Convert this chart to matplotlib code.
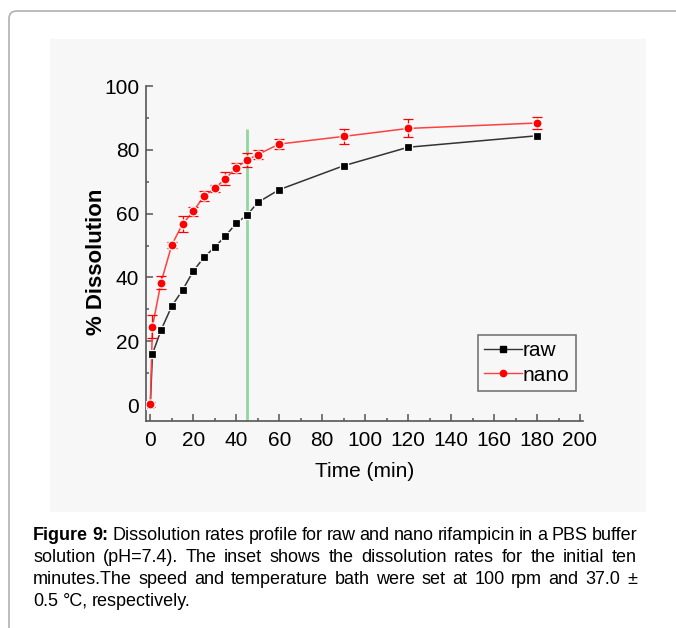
import matplotlib
matplotlib.use("Agg")
import matplotlib.pyplot as plt
import numpy as np
from matplotlib import font_manager
from matplotlib.patches import Rectangle, FancyBboxPatch

# Data
time = [0, 1, 5, 10, 15, 20, 25, 30, 35, 40, 45, 50, 60, 90, 120, 180]
raw = [0, 16, 23.5, 31, 36, 42, 46.3, 49.5, 53, 57, 59.5, 63.5, 67.5, 75, 80.8, 84.4]
nano = [0.3, 24.6, 38.4, 50.2, 56.7, 60.7, 65.5, 67.9, 71, 74.3, 76.8, 78.5, 81.8, 84.2, 86.7, 88.4]
nano_err = [0.8, 3.6, 2.1, 1.0, 2.5, 1.5, 1.6, 1.0, 1.9, 1.5, 2.2, 1.5, 1.6, 2.3, 2.8, 2.0]
marker_time = 45.2
marker_top = 86.6

caption = [
    "Figure 9: Dissolution rates profile for raw and nano rifampicin in a PBS buffer",
    "solution (pH=7.4). The inset shows the dissolution rates for the initial ten",
    "minutes.The speed and temperature bath were set at 100 rpm and 37.0 \u00b1",
    "0.5 \u00b0C, respectively.",
]

names = {f.name for f in font_manager.fontManager.ttflist}
narrow = 'Liberation Sans Narrow' if 'Liberation Sans Narrow' in names else 'Liberation Sans'
W, H = 676, 628
bg = '#f7f7f7'

fig = plt.figure(figsize=(W / 100, H / 100), dpi=100)

# page border and grey panel
fig.add_artist(FancyBboxPatch((9 / W, -0.1), 1.2, 1.1 - 11 / H,
                              boxstyle="round,pad=0,rounding_size=0.012",
                              transform=fig.transFigure, fc='white', ec='#b0b0b0', lw=1.2, zorder=-2))
fig.add_artist(Rectangle((50 / W, 1 - 512 / H), 596 / W, 473 / H,
                         transform=fig.transFigure, fc=bg, ec='none', zorder=-1))

ax = fig.add_axes([146 / W, 1 - 421 / H, 437 / W, 335 / H])
ax.set_facecolor('none')

ax.vlines(marker_time, -5, marker_top, color='#8fd6a0', lw=2, zorder=1)

ax.plot(time, raw, color='#333333', lw=1.1, zorder=2)
ax.plot(time, raw, ls='none', marker='s', ms=5.5, mfc='black', mec=bg, mew=0.9, zorder=4)
ax.errorbar(time, nano, yerr=nano_err, fmt='none', ecolor='red', elinewidth=0.9,
            capsize=3.5, capthick=0.9, zorder=3)
ax.plot(time, nano, color='#ff4040', lw=1.1, zorder=2)
ax.plot(time, nano, ls='none', marker='o', ms=6.5, mfc='red', mec=bg, mew=0.9, zorder=4)

# legend proxies
ax.plot([], [], color='#333333', lw=1, marker='s', ms=4.5, mfc='black', mec='black', label='raw')
ax.plot([], [], color='#ff4040', lw=1, marker='o', ms=4.5, mfc='red', mec='red', label='nano')
handles, labels = ax.get_legend_handles_labels()
leg = ax.legend(handles[-2:], labels[-2:], loc='lower left', bbox_to_anchor=(0.76, 0.09),
                borderaxespad=0, frameon=True, fancybox=False, handlelength=1.8,
                handletextpad=0.05, labelspacing=0.25, borderpad=0.3,
                prop={'family': narrow, 'size': 15})
leg.get_frame().set_edgecolor('#555555')
leg.get_frame().set_facecolor('none')
leg.get_frame().set_linewidth(1.2)

ax.set_xlim(-2, 201.4)
ax.set_ylim(-5, 100)
ax.set_xticks(np.arange(0, 201, 20))
ax.set_xticks(np.arange(0, 201, 10), minor=True)
ax.set_yticks(np.arange(0, 101, 20))
ax.set_yticks(np.arange(0, 101, 10), minor=True)
for s in ['top', 'right']:
    ax.spines[s].set_visible(False)
for s in ['left', 'bottom']:
    ax.spines[s].set_color('#555555')
    ax.spines[s].set_linewidth(1.2)
ax.tick_params(which='both', direction='in', color='#555555', width=1.1)
ax.tick_params(which='major', length=5)
ax.tick_params(which='minor', length=2.5)
ax.tick_params(axis='x', pad=7)
ax.tick_params(axis='y', pad=5)
for lab in ax.get_xticklabels() + ax.get_yticklabels():
    lab.set_fontfamily(narrow)
    lab.set_fontsize(15)

ax.set_xlabel('Time (min)', fontfamily=narrow, fontsize=15, labelpad=9)
fig.text(96 / W, 1 - 262 / H, '% Dissolution', rotation=90, ha='center', va='center',
         fontsize=16, fontweight='bold', family='Liberation Sans')

# justified caption
fig.canvas.draw()
r = fig.canvas.get_renderer()
x0, x1 = 33, 637
for i, line in enumerate(caption):
    y = 1 - (540 + 22 * i) / H
    words = line.split(' ')
    texts = []
    for j, w in enumerate(words):
        bold = (i == 0 and j < 2)
        t = fig.text(0, y, w, fontsize=13, family=narrow,
                     fontweight='bold' if bold else 'normal', va='baseline')
        texts.append(t)
    widths = [t.get_window_extent(r).width for t in texts]
    if i < len(caption) - 1:
        gap = (x1 - x0 - sum(widths)) / (len(words) - 1)
    else:
        gap = 4.5
    x = x0
    for t, w in zip(texts, widths):
        t.set_x(x / W)
        x += w + gap

fig.savefig('out.png', dpi=100)
